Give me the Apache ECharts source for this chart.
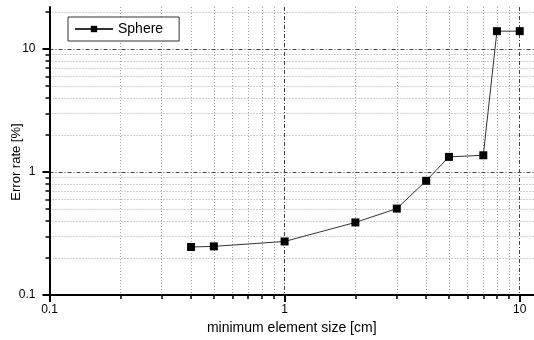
<!DOCTYPE html>
<html>
<head>
<meta charset="utf-8">
<script src="https://cdn.jsdelivr.net/npm/echarts@6/dist/echarts.min.js"></script>
<style>html,body{margin:0;padding:0;background:#fff}#c{width:534px;height:340px}</style>
</head>
<body>
<div id="c"></div>
<script>
// Data
const seriesName = 'Sphere';
const sizeCm = [0.4, 0.5, 1, 2, 3, 4, 5, 7, 8, 10];
const errorRate = [0.246, 0.249, 0.273, 0.39, 0.505, 0.85, 1.33, 1.37, 14.0, 14.0];
const majorTicks = [0.1, 1, 10];
const xMinorTicks = [0.2, 0.3, 0.4, 0.5, 0.6, 0.7, 0.8, 0.9, 2, 3, 4, 5, 6, 7, 8, 9];
const yMinorTicks = [0.2, 0.3, 0.4, 0.5, 0.6, 0.7, 0.8, 0.9, 2, 3, 4, 5, 6, 7, 8, 9, 20];
const xTitle = 'minimum element size [cm]';
const yTitle = 'Error rate [%]';

const FONT = '"Liberation Sans", Arial, sans-serif';
const X_RANGE = [0.1, 11.5];
const Y_RANGE = [0.1, 22];

const chart = echarts.init(document.getElementById('c'), null, {renderer: 'canvas'});
const minorSplit = {show: true, lineStyle: {color: '#a0a0a0', width: 1, type: [1, 2]}};
const majorSplit = {show: true, lineStyle: {color: '#444', width: 1, type: [4, 2, 1, 2]}};

chart.setOption({
  animation: false,
  backgroundColor: '#fff',
  grid: {left: 49.5, right: 0, top: 7, bottom: 42, containLabel: false},
  legend: {
    data: [seriesName],
    left: 68, top: 17,
    orient: 'horizontal',
    backgroundColor: '#fff',
    borderColor: '#333', borderWidth: 1,
    padding: [5, 16, 5, 6],
    itemWidth: 38, itemHeight: 8,
    textStyle: {fontFamily: FONT, fontSize: 14, color: '#000'}
  },
  xAxis: [
    {
      type: 'log', logBase: 10, min: X_RANGE[0], max: X_RANGE[1],
      position: 'bottom', z: 3,
      name: xTitle, nameLocation: 'middle', nameGap: 24,
      nameTextStyle: {fontFamily: FONT, fontSize: 14, color: '#000'},
      axisLine: {show: true, onZero: false, lineStyle: {color: '#000', width: 2}},
      axisTick: {show: true, length: 7, customValues: majorTicks, lineStyle: {color: '#000', width: 2}},
      axisLabel: {show: true, customValues: majorTicks, margin: 9, fontFamily: FONT, fontSize: 12, color: '#000',
        formatter: v => String(v)},
      splitLine: majorSplit
    },
    {
      type: 'log', logBase: 10, min: X_RANGE[0], max: X_RANGE[1],
      position: 'bottom', z: 2,
      axisLine: {show: false},
      axisTick: {show: true, length: 4, customValues: xMinorTicks, lineStyle: {color: '#000', width: 1.5}},
      axisLabel: {show: false},
      splitLine: minorSplit
    }
  ],
  yAxis: [
    {
      type: 'log', logBase: 10, min: Y_RANGE[0], max: Y_RANGE[1],
      position: 'left', z: 3,
      axisLine: {show: true, onZero: false, lineStyle: {color: '#000', width: 2}},
      axisTick: {show: true, length: 7, customValues: majorTicks, lineStyle: {color: '#000', width: 2}},
      axisLabel: {show: true, customValues: majorTicks, margin: 14, fontFamily: FONT, fontSize: 12, color: '#000',
        formatter: v => String(v)},
      splitLine: majorSplit
    },
    {
      type: 'log', logBase: 10, min: Y_RANGE[0], max: Y_RANGE[1],
      position: 'left', z: 2,
      axisLine: {show: false},
      axisTick: {show: true, length: 4, customValues: yMinorTicks, lineStyle: {color: '#000', width: 1.5}},
      axisLabel: {show: false},
      splitLine: minorSplit
    }
  ],
  graphic: [{
    type: 'text', x: 16, y: 162, rotation: Math.PI / 2,
    style: {text: yTitle, fontFamily: FONT, fontSize: 13, fill: '#000', align: 'center', verticalAlign: 'middle'}
  }],
  series: [{
    name: seriesName,
    type: 'line',
    xAxisIndex: 0, yAxisIndex: 0,
    data: sizeCm.map((x, i) => [x, errorRate[i]]),
    symbol: 'rect', symbolSize: 8,
    itemStyle: {color: '#000'},
    lineStyle: {color: '#333', width: 1},
    z: 10
  }]
});
</script>
</body>
</html>
